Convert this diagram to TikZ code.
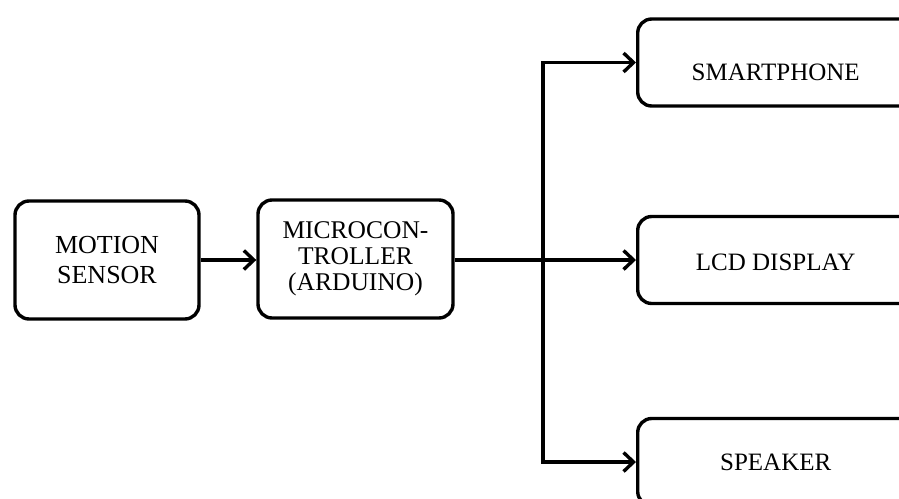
\documentclass[tikz,border=0pt]{standalone}
\usepackage{fontspec}
\setmainfont{Liberation Serif}
\usetikzlibrary{arrows.meta}
\begin{document}
\begin{tikzpicture}[x=1pt,y=-1pt,
  box/.style={draw=black,line width=3.4pt,rounded corners=14pt,inner sep=0pt,align=center},
  rbox/.style={box,minimum width=276pt,minimum height=87pt,anchor=west},
  lbox/.style={box,minimum height=118pt},
  lbl/.style={font=\fontsize{25}{26}\selectfont},
  arr/.style={line width=3.4pt,-{Straight Barb[length=10pt,width=19pt]}}]
\useasboundingbox (0,0) rectangle (899,498);
\clip (0,0) rectangle (899,498);
\node[lbox,minimum width=184pt,font=\fontsize{26}{30}\selectfont] (motion) at (107,260) {MOTION\\SENSOR};
\node[lbox,minimum width=195pt,font=\fontsize{25.5}{26}\selectfont] (micro) at (355.5,259) {MICROCON-\\TROLLER\\(ARDUINO)};
\node[rbox] (smart) at (636,62.5) {};
\node[rbox] (lcd) at (636,260) {};
\node[rbox] (speak) at (636,462) {};
\node[lbl] (smarttxt) at ([yshift=-10pt]smart.center) {SMARTPHONE};
\node[lbl] (lcdtxt) at ([yshift=-2pt]lcd.center) {LCD DISPLAY};
\node[lbl] (speaktxt) at (speak.center) {SPEAKER};
\coordinate (j) at (543,260);
\draw[arr] (motion.east) -- (micro.west |- motion.east);
\draw[arr] (micro.east |- j) -- (lcd.west);
\draw[arr] (j) |- (smart.west);
\draw[arr] (j) |- (speak.west);
\end{tikzpicture}
\end{document}
